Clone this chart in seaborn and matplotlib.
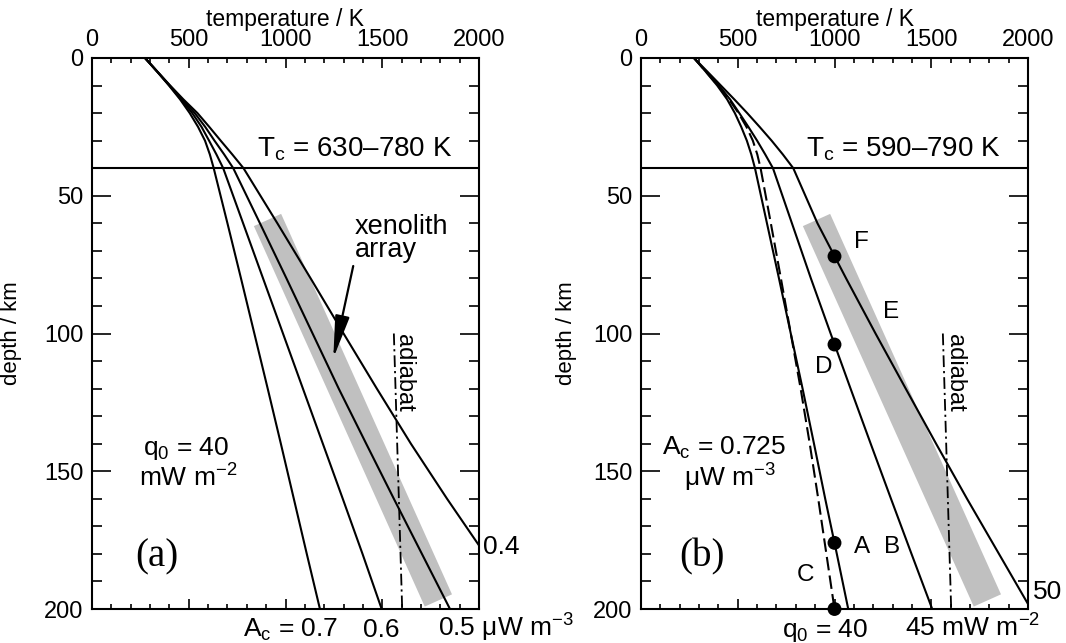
import matplotlib
matplotlib.use("Agg")
import matplotlib.pyplot as plt
from matplotlib.ticker import MultipleLocator
import seaborn as sns

# ---------------- data ----------------
depth_km = [0, 5, 10, 15, 20, 25, 30, 35, 40, 60, 80, 100, 120, 140, 160, 180, 200]

# panel (a): q0 = 40 mW m-2, crustal heat production Ac varies
T_Ac07 = [274, 337, 398, 455, 505, 548, 584, 609, 629, 700, 770, 839, 908, 976, 1043, 1110, 1178]
T_Ac06 = [274, 338, 400, 460, 518, 566, 605, 643, 678, 781, 884, 987, 1090, 1193, 1296, 1398, 1497]
T_Ac05 = [274, 338, 402, 466, 531, 585, 633, 683, 730, 868, 1005, 1140, 1275, 1417, 1560, 1705, 1850]
T_Ac04 = [274, 339, 404, 472, 545, 606, 665, 725, 783, 958, 1130, 1300, 1472, 1648, 1835, 2030, 2225]

# panel (b): Ac = 0.725 uW m-3, surface heat flow q0 varies
T_q40 = [274, 335, 394, 445, 485, 518, 547, 570, 589, 651, 713, 774, 835, 894, 952, 1012, 1071]
T_q40_dashed = [274, 336, 398, 455, 504, 545, 578, 601, 618, 671, 723, 774, 825, 872, 916, 958, 1000]
T_q45 = [274, 338, 403, 460, 508, 555, 600, 642, 682, 780, 878, 980, 1083, 1187, 1292, 1398, 1505]
T_q50 = [274, 344, 413, 482, 549, 613, 675, 733, 787, 912, 1060, 1212, 1368, 1525, 1685, 1850, 2015]

moho_depth = 40
xenolith_T = [907, 1790]
xenolith_depth = [58.8, 196.9]
adiabat_T = [1560, 1603]
adiabat_depth = [100, 200]

point_T = [1000, 1000, 1000, 1000]
point_depth = [72, 104, 176, 200]
letters = ["F", "E", "D", "A", "B", "C"]
letter_T = [1141, 1292, 946, 1141, 1296, 851]
letter_depth = [66.7, 92.1, 112.3, 177.4, 177.4, 187.7]

# ---------------- style ----------------
sns.set_style("ticks")
plt.rcParams["font.family"] = ["Liberation Sans", "DejaVu Sans"]
plt.rcParams["mathtext.fontset"] = "custom"
plt.rcParams["mathtext.rm"] = "Liberation Sans"
plt.rcParams["mathtext.it"] = "Liberation Sans:italic"
plt.rcParams["mathtext.bf"] = "Liberation Sans:bold"
for k in ["text.color", "axes.labelcolor", "xtick.color", "ytick.color", "axes.edgecolor"]:
    plt.rcParams[k] = "black"

W, H = 1066, 643
fig = plt.figure(figsize=(W / 100, H / 100), dpi=100)
axA = fig.add_axes([92 / W, 1 - 609 / H, 387 / W, 551 / H])
axB = fig.add_axes([641 / W, 1 - 609 / H, 387 / W, 551 / H])

BAND = "#c0c0c0"
LW = 1.5


def setup(ax):
    ax.set_xlim(0, 2000)
    ax.set_ylim(200, 0)
    ax.xaxis.set_major_locator(MultipleLocator(500))
    ax.xaxis.set_minor_locator(MultipleLocator(100))
    ax.yaxis.set_major_locator(MultipleLocator(50))
    ax.yaxis.set_minor_locator(MultipleLocator(10))
    ax.tick_params(which="both", direction="in", top=True, bottom=True,
                   left=True, right=True, labeltop=True, labelbottom=False,
                   labelleft=True, labelright=False, width=1.2, colors="k")
    ax.tick_params(axis="x", which="major", length=7, pad=5, labelsize=17)
    ax.tick_params(axis="x", which="minor", length=3.5)
    ax.tick_params(axis="y", which="major", length=14, pad=6, labelsize=17)
    ax.tick_params(axis="y", which="minor", length=7.5)
    ax.xaxis.set_label_position("top")
    ax.set_xlabel("temperature / K", fontsize=16.5, labelpad=2)
    ax.set_ylabel("depth / km", fontsize=16)
    for s in ax.spines.values():
        s.set_linewidth(1.5)
        s.set_color("k")
    ax.axhline(moho_depth, color="k", lw=LW, zorder=3)
    sns.lineplot(x=xenolith_T, y=xenolith_depth, sort=False, estimator=None,
                 color=BAND, lw=21.5, solid_capstyle="butt", zorder=1, ax=ax)
    sns.lineplot(x=adiabat_T, y=adiabat_depth, sort=False, estimator=None,
                 color="k", lw=1.3, linestyle=(0, (6.5, 2.2, 1.2, 2.2)), zorder=2, ax=ax)


def curve(ax, T, **kw):
    sns.lineplot(x=T, y=depth_km, sort=False, estimator=None, color="k",
                 lw=LW, zorder=4, ax=ax, **kw)


# ---------------- panel (a) ----------------
setup(axA)
for T in [T_Ac07, T_Ac06, T_Ac05, T_Ac04]:
    curve(axA, T)

axA.text(853, 35.8, r"T$_\mathrm{c}$ = 630–780 K", fontsize=20, ha="left", va="baseline")
axA.text(1359, 72.3, "xenolith\narray", fontsize=19.5, ha="left", va="baseline",
         linespacing=0.85)
axA.annotate("", xy=(1247, 109), xytext=(1350, 75.5),
             arrowprops=dict(arrowstyle="-|>,head_length=1.3,head_width=0.22",
                             color="k", lw=1.6, shrinkA=0, shrinkB=0,
                             mutation_scale=20))
axA.text(1612, 100, "adiabat", fontsize=17, rotation=-90, ha="center", va="top")
axA.text(486, 144.1, r"q$_0$ = 40", fontsize=19, ha="center", va="baseline")
axA.text(496, 155.6, r"mW m$^{-2}$", fontsize=19, ha="center", va="baseline")
axA.text(336, 184.6, "(a)", fontsize=28, family="Liberation Serif", ha="center", va="baseline")
axA.text(2021, 177.4, "0.4", fontsize=19, ha="left", va="center")
axA.text(1273, 210, r"A$_\mathrm{c}$ = 0.7", fontsize=19, ha="right", va="baseline")
axA.text(1496, 210, "0.6", fontsize=19, ha="center", va="baseline")
axA.text(1788, 210, r"0.5 μW m$^{-3}$", fontsize=19, ha="left", va="baseline")

# ---------------- panel (b) ----------------
setup(axB)
curve(axB, T_q40)
curve(axB, T_q40_dashed, linestyle=(0, (6.5, 2.5)))
curve(axB, T_q45)
curve(axB, T_q50)
sns.scatterplot(x=point_T, y=point_depth, color="k", s=100, edgecolor="none",
                zorder=6, clip_on=False, ax=axB)

axB.text(853, 35.8, r"T$_\mathrm{c}$ = 590–790 K", fontsize=20, ha="left", va="baseline")
axB.text(1623, 100, "adiabat", fontsize=17, rotation=-90, ha="center", va="top")
for lab, t, d in zip(letters, letter_T, letter_depth):
    axB.text(t, d, lab, fontsize=17.5, ha="center", va="center")
axB.text(429, 144.1, r"A$_\mathrm{c}$ = 0.725", fontsize=19, ha="center", va="baseline")
axB.text(460, 155.6, r"μW m$^{-3}$", fontsize=19, ha="center", va="baseline")
axB.text(313, 184.6, "(b)", fontsize=28, family="Liberation Serif", ha="center", va="baseline")
axB.text(2026, 193.7, "50", fontsize=19, ha="left", va="center")
axB.text(1173, 210, r"q$_0$ = 40", fontsize=19, ha="right", va="baseline")
axB.text(1364, 210, r"45 mW m$^{-2}$", fontsize=19, ha="left", va="baseline")

axA.yaxis.set_label_coords(-0.181, 0.5)
axB.yaxis.set_label_coords(-0.165, 0.5)

fig.savefig("out.png", dpi=100)
